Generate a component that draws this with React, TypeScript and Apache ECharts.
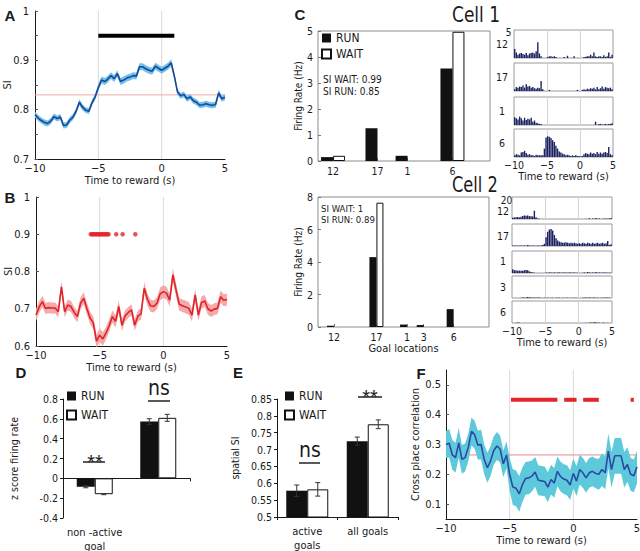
import React, { useEffect, useRef } from "react";
import * as echarts from "echarts";

const FONT = "'Liberation Sans Narrow', 'DejaVu Sans Condensed', 'Liberation Sans', sans-serif";
const BOLD = "'Liberation Sans', 'DejaVu Sans', sans-serif";
const INK = "#1a1a1a";

// ---------- time axes ----------
const timeToReward = Array.from({ length: 61 }, (_, i) => -10 + i * 0.25);
const BIN = 0.25;
const binStarts = Array.from({ length: 60 }, (_, i) => -10 + i * BIN);
const rewardMarkers = [-5, 0];

// ---------- panel A ----------
const siA = [0.790,0.783,0.778,0.774,0.772,0.777,0.786,0.782,0.785,0.768,0.769,0.779,0.785,0.797,0.815,0.805,0.799,0.797,0.814,0.826,0.845,0.860,0.857,0.862,0.869,0.863,0.873,0.857,0.860,0.864,0.866,0.869,0.868,0.887,0.887,0.883,0.880,0.878,0.888,0.884,0.880,0.884,0.888,0.895,0.868,0.836,0.828,0.831,0.822,0.826,0.818,0.815,0.809,0.810,0.812,0.810,0.809,0.810,0.834,0.822,0.825];
const siAErr = [0.006,0.006,0.006,0.006,0.006,0.006,0.006,0.006,0.006,0.006,0.006,0.006,0.006,0.006,0.006,0.006,0.006,0.006,0.006,0.006,0.007,0.007,0.007,0.007,0.007,0.007,0.007,0.007,0.007,0.007,0.007,0.007,0.007,0.007,0.007,0.007,0.007,0.007,0.007,0.007,0.007,0.007,0.007,0.007,0.007,0.006,0.006,0.006,0.006,0.006,0.006,0.006,0.006,0.006,0.006,0.006,0.006,0.006,0.007,0.006,0.006];
const sigBarA = [[-5, 1]];
const sigLevelA = 0.95;
const chanceA = 0.83;

// ---------- panel B ----------
const siB = [0.683,0.705,0.719,0.701,0.703,0.702,0.702,0.692,0.759,0.692,0.710,0.706,0.690,0.679,0.715,0.728,0.700,0.675,0.662,0.613,0.629,0.619,0.635,0.655,0.679,0.666,0.706,0.656,0.681,0.690,0.697,0.656,0.680,0.686,0.755,0.725,0.708,0.706,0.715,0.740,0.746,0.742,0.723,0.791,0.750,0.712,0.708,0.705,0.701,0.683,0.737,0.683,0.717,0.721,0.700,0.694,0.699,0.701,0.732,0.723,0.725];
const siBErr = [0.016,0.016,0.015,0.015,0.015,0.015,0.015,0.015,0.016,0.015,0.015,0.015,0.015,0.015,0.016,0.016,0.016,0.016,0.017,0.018,0.018,0.018,0.017,0.017,0.016,0.016,0.016,0.016,0.015,0.015,0.015,0.015,0.015,0.015,0.016,0.016,0.016,0.016,0.016,0.017,0.017,0.017,0.017,0.018,0.018,0.017,0.017,0.017,0.017,0.017,0.016,0.016,0.016,0.016,0.016,0.016,0.016,0.016,0.016,0.016,0.016];
const sigDotsB = [-5.7,-5.6,-5.5,-5.4,-5.3,-5.2,-5.1,-5.0,-4.9,-4.8,-4.7,-4.6,-4.5,-4.4,-4.3,-3.7,-3.2,-2.2];
const sigLevelB = 0.9;

// ---------- panel C ----------
const goalNamesC1 = ["12", "17", "1", "6"];
const goalPosC1 = [1.05, 4.15, 6.25, 9.38];
const runC1 = [0.15, 1.26, 0.2, 3.56];
const waitC1 = [0.2, 0, 0, 4.97];
const goalNamesC2 = ["12", "17", "1", "3", "6"];
const goalPosC2 = [1.12, 4.1, 6.25, 7.42, 9.52];
const runC2 = [0.08, 4.3, 0.15, 0.12, 1.1];
const waitC2 = [0, 7.65, 0, 0, 0];

const histC1Labels = ["12", "17", "1", "6"];
const histC1 = [
  [1.6,1.0,0.6,0.8, 0.9,0.7,0.6,0.9, 0.5,0.8,0.9,1.0, 0.8,1.2,2.8,0.8, 0.3,0,0,0, 0.2,0.3,0.3,0.2, 0.3,0.2,0,0, 0,0,0.2,0, 0.4,0,0,0, 0.3,0,0,0, 0,0,0.2,0.2, 0.3,0.3,0.6,0.3, 1.0,0.3,0.2,0.3, 0.3,0.2,0.5,0.2, 0.3,1.0,0.2,0.6],
  [0.3,0.7,0.6,0.8, 0.7,1.0,0.6,1.2, 0.8,0.9,0.6,0.7, 0.5,0.4,0.6,0.5, 1.8,0.3,0,0, 0,0.2,0,0, 0,0,0,0, 0,0,0,0, 0,0,0,0, 0,0,0.2,0, 0,0.2,0.3,0.2, 0.4,0.3,0.5,0.4, 0.6,0.3,0.7,0.3, 0.5,0.8,0.4,0.7, 0.6,0.5,0.6,0.3],
  [1.4,1.2,1.0,1.5, 1.2,0.8,1.3,0.9, 1.1,1.0,1.3,0.6, 0.8,0.4,0.3,0.2, 0.2,0,0,0, 0,0,0,0, 0,0,0,0, 0,0,0,0, 0,0,0,0, 0,0,0,0, 0,0,0,0, 0,0,0,0, 0,0.6,0,0.2, 0.2,0.1,0.1,0.2, 0.1,0.2,0.2,0.3],
  [0.3,0.5,0.4,0.3, 0.8,0.9,1.1,0.7, 0.4,0.5,0.3,0.3, 0.2,0.4,0.3,0.3, 0.3,0.3,1.5,3.5, 3.7,3.6,3.4,3.0, 2.7,2.0,1.5,1.0, 0.8,0.6,0.5,0.3, 0.4,0.3,0.2,0.3, 0.2,0.3,0.2,0.2, 0.1,0.2,0.5,0.7, 0.6,0.5,0.8,0.6, 0.7,0.5,0.9,0.6, 0.8,0.6,0.8,0.9, 0.7,1.8,0.5,0.3],
];
const histC1Max = 5;
const histC2Labels = ["12", "17", "1", "3", "6"];
const histC2 = [
  [1.2,1.5,1.5,1.8, 1.5,2.0,2.8,3.2, 3.0,3.2,2.6,2.4, 2.2,7.5,1.5,0.5, 0.3,0,0,0, 0,0,0,0, 0,0,0,0, 0,0,0,0, 0,0,0,0, 0,0,0,0, 0,0,0,0, 0.3,0,0.8,0, 0.5,0.3,1.0,0.3, 0.5,0,0.3,0.3, 0.5,0.3,0.5,1.0],
  [0.5,0.3,0.5,0.3, 0.3,0.5,0.3,0.5, 0.3,0.8,0.5,0.3, 0.5,0.3,0.3,0.5, 0.3,0.5,0.8,2.0, 8.0,13.0,15.0,15.5, 14.0,10.0,7.0,5.0, 4.0,3.5,3.0,3.0, 3.5,3.0,2.5,3.0, 2.5,3.0,2.5,2.0, 2.5,2.0,3.0,2.5, 2.0,3.0,2.5,2.0, 3.0,2.0,2.5,3.0, 2.0,2.5,3.0,2.0, 2.5,4.5,1.0,1.5],
  [3.5,2.5,2.5,2.0, 2.2,2.0,2.0,2.5, 2.8,2.5,1.5,1.0, 0.5,0.3,0,0, 0,0,0,0, 0.5,0.3,0.5,0.5, 0.3,0.5,0.3,0.5, 0.5,0.3,0.5,0.3, 0.5,0.3,0.5,0.5, 0.3,0.5,0.3,0.3, 0,0,0.3,0.5, 0.3,0.8,0.5,0.3, 0.5,0.3,0.8,0.3, 0.5,0.3,0.5,0.3, 0.5,0.3,0.3,0.3],
  [0,0,0,0, 0,0.3,0.5,0.3, 0.5,0.8,0.5,0.5, 0.3,0.5,0.3,0.5, 0.3,0.3,0,0.3, 0.3,0.3,0,0.3, 0.3,0,0.3,0.3, 0.3,0,0.3,0, 0.3,0.3,0,0.3, 0,0.3,0.3,0, 0,0,0.3,0.3, 0.5,0.3,0.5,0.3, 0.3,0.5,0.3,0.3, 0,0.3,0.3,0.3, 0.5,0.3,0.3,0],
  [0,0,0.3,0.5, 0.3,0,0,0, 0,0,0,0, 0,0,0,0, 0,0,0,0, 0,0,0,0, 0,0,0,0, 0,0,0,0, 0,0,0,0, 0,0,0,0, 0,0,0,0, 0.3,0,0.3,0.5, 0.3,0.8,0.5,0.3, 0.3,0,0.3,0.3, 0,0.3,0,0],
];
const histC2Max = 20;

// ---------- panel D ----------
const catsD = ["non -active\ngoal", "active\ngoal"];
const runD = [-0.085, 0.573];
const runDErr = [0.01, 0.028];
const waitD = [-0.16, 0.61];
const waitDErr = [0.005, 0.035];

// ---------- panel E ----------
const catsE = ["active\ngoals", "all goals"];
const runE = [0.578, 0.725];
const runEErr = [0.017, 0.012];
const waitE = [0.582, 0.775];
const waitEErr = [0.02, 0.013];

// ---------- panel F ----------
const crossCorrF = [0.300,0.304,0.265,0.256,0.305,0.250,0.256,0.290,0.344,0.333,0.298,0.300,0.250,0.222,0.245,0.280,0.295,0.285,0.235,0.265,0.200,0.157,0.153,0.134,0.165,0.186,0.188,0.194,0.208,0.180,0.178,0.176,0.157,0.182,0.171,0.210,0.192,0.184,0.180,0.164,0.203,0.177,0.216,0.205,0.188,0.205,0.210,0.203,0.200,0.216,0.205,0.278,0.216,0.262,0.262,0.262,0.216,0.233,0.200,0.195,0.225];
const crossCorrFErr = [0.045,0.048,0.05,0.05,0.05,0.048,0.047,0.047,0.047, 0.047,0.048,0.05,0.05,0.05,0.05,0.048,0.047,0.045,0.045,0.045, 0.055,0.06,0.06,0.06,0.058,0.055,0.055,0.052,0.05, 0.05,0.05,0.05,0.05,0.05,0.05,0.05,0.05,0.05,0.05,0.05,0.05, 0.05,0.05,0.05,0.05,0.05,0.05,0.05,0.052,0.055,0.055,0.058,0.06,0.06,0.06,0.06,0.06,0.058,0.055,0.055,0.055];
const sigBarsF = [[-4.9, -1.25], [-0.72, 0.25], [0.77, 2.0], [4.5, 4.75]];
const sigLevelF = 0.45;
const chanceF = 0.265;

// ---------- helpers ----------
const timeLabel = (v: number) => (v < 0 ? "\u2212" + Math.abs(v) : String(v));
const txt = (size: number, extra: any = {}) => ({ fontSize: size, color: INK, fontFamily: FONT, ...extra });

function timeXAxis(g: number, opts: any = {}) {
  return {
    gridIndex: g, type: "value", min: -10, max: 5, interval: 5,
    axisLine: { show: true, onZero: false, lineStyle: { color: INK, width: 1 } },
    axisTick: { show: false },
    axisLabel: { formatter: timeLabel, ...txt(11), margin: 4 },
    splitLine: { show: false },
    name: "Time to reward (s)", nameLocation: "middle", nameGap: 15,
    nameTextStyle: txt(11),
    ...opts,
  };
}

// vertical reference lines spanning the y range
function vLines(g: number, xs: number[], yLo: number, yHi: number, color: string) {
  return {
    type: "custom", xAxisIndex: g, yAxisIndex: g, silent: true, z: 1,
    data: xs.map((x) => [x, yLo, yHi]),
    encode: { x: 0, y: [1, 2] },
    renderItem: (_p: any, api: any) => {
      const a = api.coord([api.value(0), api.value(1)]);
      const b = api.coord([api.value(0), api.value(2)]);
      return { type: "line", shape: { x1: a[0], y1: a[1], x2: b[0], y2: b[1] }, style: { stroke: color, lineWidth: 1 } };
    },
  };
}
// horizontal reference line spanning the x range
function hLine(g: number, yv: number, xLo: number, xHi: number, color: string) {
  return {
    type: "custom", xAxisIndex: g, yAxisIndex: g, silent: true, z: 2,
    data: [[xLo, xHi, yv]],
    encode: { x: [0, 1], y: 2 },
    renderItem: (_p: any, api: any) => {
      const a = api.coord([api.value(0), api.value(2)]);
      const b = api.coord([api.value(1), api.value(2)]);
      return { type: "line", shape: { x1: a[0], y1: a[1], x2: b[0], y2: b[1] }, style: { stroke: color, lineWidth: 1 } };
    },
  };
}

function bandSeries(g: number, y: number[], err: number[], bandColor: string, lineColor: string) {
  return [
    {
      type: "custom", xAxisIndex: g, yAxisIndex: g, silent: true, z: 3,
      data: [[timeToReward[0], y[0]]],
      encode: { x: 0, y: 1 },
      renderItem: (_p: any, api: any) => {
        const upper = timeToReward.map((t, i) => api.coord([t, y[i] + err[i]]));
        const lower = timeToReward.map((t, i) => api.coord([t, y[i] - err[i]])).reverse();
        return { type: "polygon", shape: { points: upper.concat(lower) }, style: { fill: bandColor } };
      },
    },
    {
      type: "line", xAxisIndex: g, yAxisIndex: g, symbol: "none", z: 4, silent: true,
      lineStyle: { color: lineColor, width: 1.6 },
      data: timeToReward.map((t, i) => [t, y[i]]),
    },
  ];
}

function sigBarSeries(g: number, segs: number[][], level: number, color: string, h: number) {
  return {
    type: "custom", xAxisIndex: g, yAxisIndex: g, silent: true, z: 6,
    data: segs.map((s) => [s[0], s[1], level]),
    encode: { x: [0, 1], y: 2 },
    renderItem: (_p: any, api: any) => {
      const a = api.coord([api.value(0), api.value(2)]);
      const b = api.coord([api.value(1), api.value(2)]);
      return { type: "rect", shape: { x: a[0], y: a[1] - h / 2, width: b[0] - a[0], height: h }, style: { fill: color } };
    },
  };
}

function histSeries(g: number, vals: number[]) {
  return {
    type: "custom", xAxisIndex: g, yAxisIndex: g, silent: true, z: 3,
    data: binStarts.map((b, i) => [b, vals[i]]),
    encode: { x: 0, y: 1 },
    renderItem: (_p: any, api: any) => {
      const x0 = api.value(0);
      const v = api.value(1);
      const p0 = api.coord([x0, 0]);
      const p1 = api.coord([x0 + BIN, v]);
      return {
        type: "rect",
        shape: { x: p0[0], y: p1[1], width: Math.max(p1[0] - p0[0] - 0.25, 0.5), height: p0[1] - p1[1] },
        style: { fill: "#1d2263" },
      };
    },
  };
}

function errorSeries(xIdx: number, g: number, vals: number[], errs: number[], side: number, bw: number) {
  return {
    type: "custom", xAxisIndex: xIdx, yAxisIndex: g, silent: true, z: 5,
    data: vals.map((v, i) => [i, v, errs[i], side]),
    encode: { x: 0, y: 1 },
    renderItem: (_p: any, api: any) => {
      const c = api.value(0), v = api.value(1), e = api.value(2), s = api.value(3);
      const top = api.coord([c, v + e]);
      const bot = api.coord([c, v - e]);
      const x = top[0] + (s * bw) / 2;
      const st = { stroke: "#333", lineWidth: 1 };
      return {
        type: "group",
        children: [
          { type: "line", shape: { x1: x, y1: top[1], x2: x, y2: bot[1] }, style: st },
          { type: "line", shape: { x1: x - 2.5, y1: top[1], x2: x + 2.5, y2: top[1] }, style: st },
          { type: "line", shape: { x1: x - 2.5, y1: bot[1], x2: x + 2.5, y2: bot[1] }, style: st },
        ],
      };
    },
  };
}

const runStyle = { color: "#111" };
const waitStyle = { color: "#fff", borderColor: "#111", borderWidth: 1 };

function buildOption() {
  const grids: any[] = [
    { left: 35, top: 11, width: 190, height: 148 },
    { left: 36, top: 197, width: 191, height: 149 },
    { left: 318, top: 31, width: 172, height: 130, show: true, borderColor: "#8c8c8c", borderWidth: 1 },
    { left: 318, top: 197, width: 171, height: 130, show: true, borderColor: "#8c8c8c", borderWidth: 1 },
  ];
  const c1Tops = [30, 63, 97, 129];
  c1Tops.forEach((t) => grids.push({ left: 514, top: t, width: 99, height: 28, show: true, borderColor: "#9a9a9a", borderWidth: 1 }));
  const c2Tops = [197, 224, 251, 276, 301];
  c2Tops.forEach((t) => grids.push({ left: 512, top: t, width: 100, height: 22, show: true, borderColor: "#9a9a9a", borderWidth: 1 }));
  grids.push({ left: 63, top: 399, width: 127, height: 119 }); // 13 D
  grids.push({ left: 277, top: 399, width: 121, height: 118 }); // 14 E
  grids.push({ left: 446, top: 370, width: 191, height: 149 }); // 15 F
  grids.forEach((g) => (g.outerBoundsMode = "none"));

  const xAxis: any[] = [];
  const yAxis: any[] = [];
  const yLine = { show: true, onZero: false, lineStyle: { color: INK } };

  // A
  xAxis.push(timeXAxis(0));
  yAxis.push({
    gridIndex: 0, type: "value", min: 0.7, max: 1,
    axisLine: yLine,
    axisTick: { show: true, inside: true, length: 3, lineStyle: { color: "#555" }, customValues: [0.7, 0.75, 0.8, 0.85, 0.9, 0.95, 1] },
    axisLabel: { customValues: [0.7, 0.8, 0.9, 1], ...txt(11), margin: 6 },
    splitLine: { show: false },
    name: "SI", nameLocation: "middle", nameGap: 22, nameMoveOverlap: false, nameRotate: 90, nameTextStyle: txt(11),
  });
  // B
  xAxis.push(timeXAxis(1));
  yAxis.push({
    gridIndex: 1, type: "value", min: 0.6, max: 1,
    axisLine: yLine,
    axisTick: { show: true, inside: true, length: 3, lineStyle: { color: "#555" }, customValues: [0.6, 0.7, 0.8, 0.9, 1] },
    axisLabel: { customValues: [0.6, 0.7, 0.8, 0.9, 1], ...txt(11), margin: 6 },
    splitLine: { show: false },
    name: "SI", nameLocation: "middle", nameGap: 22, nameMoveOverlap: false, nameRotate: 90, nameTextStyle: txt(11),
  });
  // C1, C2 bars
  const goalAxis = (g: number, pos: number[], names: string[], name: string) => ({
    gridIndex: g, type: "value", min: 0, max: 12,
    axisLine: { show: false, onZero: false },
    axisTick: { show: true, inside: true, length: 3, lineStyle: { color: "#777" }, customValues: pos },
    axisLabel: {
      customValues: pos, ...txt(10.5), margin: 4,
      formatter: (v: number) => {
        const k = pos.findIndex((p) => Math.abs(p - v) < 1e-6);
        return k >= 0 ? names[k] : "";
      },
    },
    splitLine: { show: false },
    name, nameLocation: "middle", nameGap: 11, nameTextStyle: txt(11),
  });
  xAxis.push(goalAxis(2, goalPosC1, goalNamesC1, ""));
  yAxis.push({
    gridIndex: 2, type: "value", min: 0, max: 5, interval: 1,
    axisLine: { show: false, onZero: false },
    axisTick: { show: true, inside: true, length: 3, lineStyle: { color: "#777" } },
    axisLabel: { ...txt(10.5), margin: 5 },
    splitLine: { show: false },
    name: "Firing Rate (Hz)", nameLocation: "middle", nameGap: 11, nameRotate: 90, nameTextStyle: txt(10),
  });
  xAxis.push(goalAxis(3, goalPosC2, goalNamesC2, "Goal locations"));
  yAxis.push({
    gridIndex: 3, type: "value", min: 0, max: 8, interval: 2,
    axisLine: { show: false, onZero: false },
    axisTick: { show: true, inside: true, length: 3, lineStyle: { color: "#777" } },
    axisLabel: { ...txt(10.5), margin: 5 },
    splitLine: { show: false },
    name: "Firing Rate (Hz)", nameLocation: "middle", nameGap: 11, nameRotate: 90, nameTextStyle: txt(10),
  });
  // histograms
  const histAxes = (g: number, last: boolean, ymax: number) => {
    xAxis.push({
      gridIndex: g, type: "value", min: -10, max: 5, interval: 5,
      axisLine: { show: false, onZero: false }, axisTick: { show: false },
      axisLabel: { show: last, formatter: timeLabel, ...txt(10.5), margin: 2 },
      splitLine: { show: true, showMinLine: false, showMaxLine: false, lineStyle: { color: "#d4d4d4", width: 1 } },
      name: last ? "Time to reward (s)" : "", nameLocation: "middle", nameGap: 11, nameTextStyle: txt(11),
    });
    yAxis.push({ gridIndex: g, type: "value", min: 0, max: ymax, show: false, axisLine: { onZero: false } });
  };
  histC1.forEach((_, i) => histAxes(4 + i, i === histC1.length - 1, histC1Max));
  histC2.forEach((_, i) => histAxes(8 + i, i === histC2.length - 1, histC2Max));
  // D (13)
  xAxis.push({
    gridIndex: 13, type: "category", data: catsD,
    axisLine: { show: true, onZero: true, lineStyle: { color: INK } },
    axisTick: { show: true, length: 3, lineStyle: { color: INK } },
    axisLabel: { show: false },
  });
  yAxis.push({
    gridIndex: 13, type: "value", min: -0.4, max: 0.8, interval: 0.2,
    axisLine: yLine,
    axisTick: { show: true, length: 3, lineStyle: { color: INK } },
    axisLabel: { ...txt(10.5), margin: 5, formatter: (v: number) => (Math.abs(v) < 1e-9 ? "0" : v.toFixed(1)) },
    splitLine: { show: false },
    name: "z score firing rate", nameLocation: "middle", nameGap: 44, nameRotate: 90, nameTextStyle: txt(10.5),
  });
  // E (14)
  xAxis.push({
    gridIndex: 14, type: "category", data: catsE,
    axisLine: { show: true, onZero: false, lineStyle: { color: INK } },
    axisTick: { show: true, length: 3, lineStyle: { color: INK } },
    axisLabel: { ...txt(11), lineHeight: 14, margin: 7 },
  });
  yAxis.push({
    gridIndex: 14, type: "value", min: 0.5, max: 0.85, interval: 0.05,
    axisLine: yLine,
    axisTick: { show: true, length: 3, lineStyle: { color: INK } },
    axisLabel: { ...txt(10.5), margin: 5, formatter: (v: number) => String(Number(v.toFixed(2))) },
    splitLine: { show: false },
    name: "spatial SI", nameLocation: "middle", nameGap: 37, nameRotate: 90, nameTextStyle: txt(10.5),
  });
  // F (15)
  xAxis.push(timeXAxis(15));
  yAxis.push({
    gridIndex: 15, type: "value", min: 0.05, max: 0.55,
    axisLine: yLine,
    axisTick: { show: true, inside: true, length: 3, lineStyle: { color: "#555" }, customValues: [0.1, 0.2, 0.3, 0.4, 0.5] },
    axisLabel: { customValues: [0.1, 0.2, 0.3, 0.4, 0.5], ...txt(11), margin: 5, formatter: (v: number) => v.toFixed(1) },
    splitLine: { show: false },
    name: "Cross place correlation", nameLocation: "middle", nameGap: 20, nameRotate: 90, nameTextStyle: txt(11),
  });
  // D label axis (16)
  xAxis.push({
    gridIndex: 13, type: "category", data: catsD, position: "bottom",
    axisLine: { show: false, onZero: false }, axisTick: { show: false },
    axisLabel: { ...txt(11), lineHeight: 14, margin: 7 },
  });

  const series: any[] = [];
  // A
  series.push(vLines(0, rewardMarkers, 0.7, 1, "#d9d9d9"));
  series.push(hLine(0, chanceA, -10, 5, "#f2a9a9"));
  series.push(...bandSeries(0, siA, siAErr, "#6ec3ec", "#1f4596"));
  series.push(sigBarSeries(0, sigBarA, sigLevelA, "#000", 4));
  // B
  series.push(vLines(1, rewardMarkers, 0.6, 1, "#d9d9d9"));
  series.push(...bandSeries(1, siB, siBErr, "#f4a9ab", "#e02329"));
  series.push({
    type: "scatter", xAxisIndex: 1, yAxisIndex: 1, symbolSize: 4.5, silent: true, z: 6,
    itemStyle: { color: "#e3262b" },
    data: sigDotsB.map((t) => [t, sigLevelB]),
  });
  // C bars
  const barPair = (g: number, pos: number[], run: number[], wait: number[], bw: number) => [
    { type: "bar", name: "RUN", xAxisIndex: g, yAxisIndex: g, barWidth: bw, barGap: "0%", itemStyle: runStyle, data: pos.map((p, i) => [p, run[i]]) },
    { type: "bar", name: "WAIT", xAxisIndex: g, yAxisIndex: g, barWidth: bw, barGap: "0%", itemStyle: waitStyle, data: pos.map((p, i) => [p, wait[i] > 0 ? wait[i] : "-"]) },
  ];
  series.push(...barPair(2, goalPosC1, runC1, waitC1, 12));
  series.push(...barPair(3, goalPosC2, runC2, waitC2, 7));
  // histograms
  histC1.forEach((h, i) => series.push(histSeries(4 + i, h)));
  histC2.forEach((h, i) => series.push(histSeries(8 + i, h)));
  // D
  series.push({ type: "bar", name: "RUN", xAxisIndex: 13, yAxisIndex: 13, barWidth: 18, barGap: "0%", itemStyle: runStyle, data: runD });
  series.push({ type: "bar", name: "WAIT", xAxisIndex: 13, yAxisIndex: 13, barWidth: 18, barGap: "0%", itemStyle: waitStyle, data: waitD });
  series.push(errorSeries(13, 13, runD, runDErr, -1, 18));
  series.push(errorSeries(13, 13, waitD, waitDErr, 1, 18));
  // E
  series.push({ type: "bar", name: "RUN", xAxisIndex: 14, yAxisIndex: 14, barWidth: 21, barGap: "0%", itemStyle: runStyle, data: runE });
  series.push({ type: "bar", name: "WAIT", xAxisIndex: 14, yAxisIndex: 14, barWidth: 21, barGap: "0%", itemStyle: waitStyle, data: waitE });
  series.push(errorSeries(14, 14, runE, runEErr, -1, 21));
  series.push(errorSeries(14, 14, waitE, waitEErr, 1, 21));
  // F
  series.push(vLines(15, rewardMarkers, 0.05, 0.55, "#d9d9d9"));
  series.push(hLine(15, chanceF, -10, 5, "#e88a8a"));
  series.push(...bandSeries(15, crossCorrF, crossCorrFErr, "#5fc9dc", "#2a4aa3"));
  series.push(sigBarSeries(15, sigBarsF, sigLevelF, "#e3262b", 4));

  const legend = (left: number, top: number, gap: number) => ({
    left, top, orient: "vertical", icon: "rect", itemWidth: 9, itemHeight: 9, itemGap: gap,
    selectedMode: false, data: ["RUN", "WAIT"], textStyle: txt(12), padding: 0,
  });

  const label = (text: string, x: number, y: number, size: number, extra: any = {}, el: any = {}) => ({
    type: "text", x, y, silent: true, ...el,
    style: { text, fontSize: size, fontFamily: FONT, fill: INK, textAlign: "center", textVerticalAlign: "middle", ...extra },
  });
  const panel = (t: string, x: number, y: number) => label(t, x, y, 15, { fontFamily: BOLD, fontWeight: "bold" });
  const uline = (x1: number, x2: number, y: number) => ({
    type: "line", silent: true, shape: { x1, y1: y, x2, y2: y }, style: { stroke: "#222", lineWidth: 1.5 },
  });

  const graphic: any[] = [
    panel("A", 10, 15), panel("B", 10, 197), panel("C", 300, 14),
    panel("D", 21, 372), panel("E", 238, 372), panel("F", 421, 373),
    label("Cell 1", 452, 14, 22, { textAlign: "left" }, { scaleX: 0.86 }),
    label("Cell 2", 452, 185, 21, { textAlign: "left" }, { scaleX: 0.86 }),
    label("SI WAIT: 0.99", 323, 79, 10, { textAlign: "left" }),
    label("SI RUN: 0.85", 323, 91, 10, { textAlign: "left" }),
    label("SI WAIT: 1", 321, 208, 9.5, { textAlign: "left" }),
    label("SI RUN: 0.89", 321, 219, 9.5, { textAlign: "left" }),
    label(String(histC1Max), 508.5, 32, 10),
    label(String(histC2Max), 506.5, 200, 10),
    ...histC1Labels.map((t, i) => label(t, 502, [44, 77, 111, 143][i], 10.5)),
    ...histC2Labels.map((t, i) => label(t, 503, [211, 236, 261, 287, 312][i], 10.5)),
    // significance
    label("**", 95, 462, 20, { fontFamily: BOLD }),
    uline(83, 105, 462),
    label("ns", 159, 388, 21),
    uline(148, 170, 401),
    label("ns", 310, 450, 21),
    uline(299, 320, 463),
    label("**", 370, 397, 20, { fontFamily: BOLD }),
    uline(358, 382, 397),
  ];

  return {
    animation: false,
    backgroundColor: "#fff",
    textStyle: { fontFamily: FONT },
    grid: grids,
    xAxis,
    yAxis,
    series,
    legend: [legend(321, 32, 4), legend(66, 390, 7), legend(284, 390, 7)],
    graphic,
  };
}

export default function App() {
  const ref = useRef<HTMLDivElement>(null);
  useEffect(() => {
    if (!ref.current) return;
    const chart = echarts.init(ref.current, null, { renderer: "svg" });
    chart.setOption(buildOption() as any);
    return () => chart.dispose();
  }, []);
  return <div ref={ref} style={{ position: "absolute", left: 0, top: 0, width: 640, height: 551 }} />;
}
